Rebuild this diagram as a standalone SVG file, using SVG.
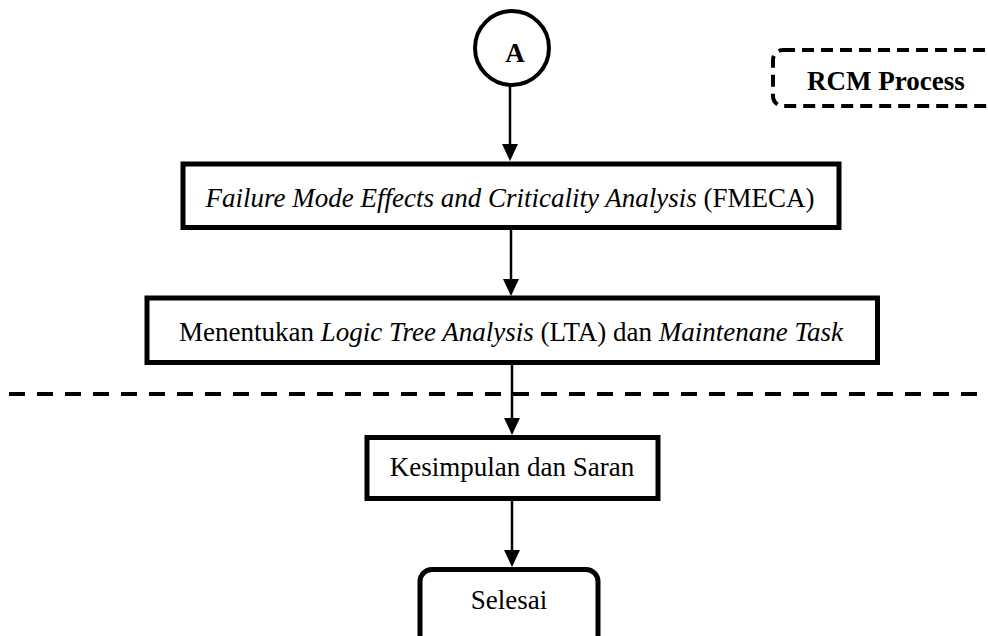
<svg xmlns="http://www.w3.org/2000/svg" width="988" height="636" viewBox="0 0 988 636">
<defs>
<style>
.box{fill:#fff;stroke:#000;stroke-width:5}
.t{font-family:"Liberation Serif","Times New Roman",serif;font-size:27px;fill:#000}
.i{font-style:italic}
.b{font-weight:bold}
.ln{stroke:#000;stroke-width:2.5;fill:none}
</style>
</defs>
<rect width="988" height="636" fill="#fff"/>
<line x1="9" y1="394" x2="985" y2="394" stroke="#000" stroke-width="4" stroke-dasharray="16 12"/>
<g id="connectors">
<line class="ln" x1="510" y1="86" x2="510" y2="145"/>
<path d="M502,144 L518,144 L510,161 Z"/>
<line class="ln" x1="511" y1="230" x2="511" y2="280"/>
<path d="M503,279 L519,279 L511,296 Z"/>
<line class="ln" x1="512" y1="365" x2="512" y2="419"/>
<path d="M504,418 L520,418 L512,435 Z"/>
<line class="ln" x1="512" y1="500" x2="512" y2="551"/>
<path d="M504,550 L520,550 L512,567 Z"/>
</g>
<g id="nodeA">
<circle cx="512" cy="48" r="37" fill="#fff" stroke="#000" stroke-width="4"/>
<text class="t b" x="515" y="62" text-anchor="middle" font-size="24">A</text>
</g>
<g id="rcm">
<rect x="773" y="50" width="240" height="56" rx="10" fill="#fff" stroke="#000" stroke-width="4" stroke-dasharray="12 7"/>
<text class="t b" x="807" y="90" font-size="26.5">RCM Process</text>
</g>
<g id="fmeca">
<rect class="box" x="183" y="164" width="656" height="63.5"/>
<text class="t" x="510" y="207" text-anchor="middle"><tspan class="i">Failure Mode Effects and Criticality Analysis</tspan> (FMECA)</text>
</g>
<g id="lta">
<rect class="box" x="147" y="298" width="730.5" height="64.5"/>
<text class="t" x="511" y="341" text-anchor="middle">Menentukan <tspan class="i">Logic Tree Analysis</tspan> (LTA) dan <tspan class="i">Maintenane Task</tspan></text>
</g>
<g id="kesimpulan">
<rect class="box" x="367" y="437.5" width="291" height="61"/>
<text class="t" x="512" y="476" text-anchor="middle" font-size="26.5">Kesimpulan dan Saran</text>
</g>
<g id="selesai">
<rect class="box" x="420" y="569.5" width="178" height="80" rx="12"/>
<text class="t" x="509" y="609" text-anchor="middle" font-size="26.5">Selesai</text>
</g>
</svg>
